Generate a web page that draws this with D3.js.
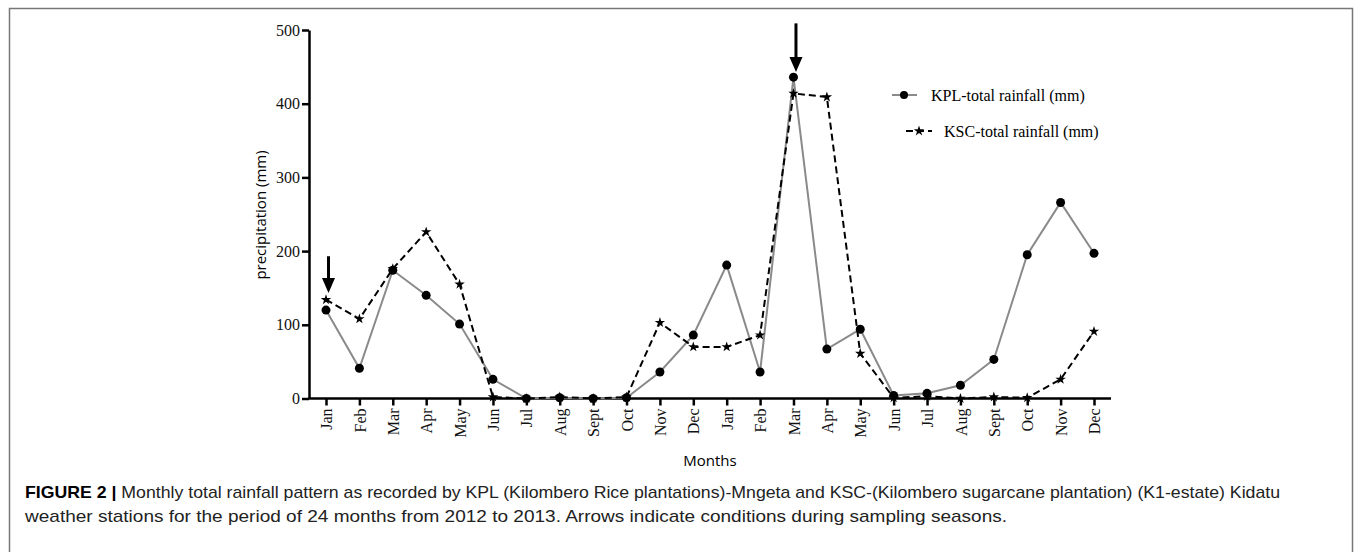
<!DOCTYPE html>
<html>
<head>
<meta charset="utf-8">
<script src="https://cdn.jsdelivr.net/npm/d3@7"></script>
<style>
  body { margin: 0; background: #fff; }
  svg { display: block; }
  .tick text { font-family: "Liberation Serif", serif; fill: #111; }
</style>
</head>
<body>
<svg width="1357" height="552"></svg>
<script>
// data
var months = ["Jan","Feb","Mar","Apr","May","Jun","Jul","Aug","Sept","Oct","Nov","Dec",
              "Jan","Feb","Mar","Apr","May","Jun","Jul","Aug","Sept","Oct","Nov","Dec"];
var kpl = [120, 41, 174, 140, 101, 26, 0, 1, 0, 1, 36, 86,
           181, 36, 436, 67, 94, 4, 7, 18, 53, 195, 266, 197];
var ksc = [134, 108, 176, 226, 155, 2, 0, 2, 0, 2, 103, 70,
           70, 86, 414, 409, 61, 1, 3, 0, 2, 1, 26, 91];
var yTicks = [0, 100, 200, 300, 400, 500];
// sampling arrows: month index, top and tip in mm
var arrows = [{i: 0, from: 193, to: 143}, {i: 14, from: 509, to: 443}];

var svg = d3.select("svg");

// frame
svg.append("rect")
  .attr("x", 9.5).attr("y", 8.5).attr("width", 1343).attr("height", 600)
  .attr("fill", "none").attr("stroke", "#777").attr("stroke-width", 1.5);

var x = d3.scalePoint().domain(d3.range(months.length)).range([326, 1094]),
    y = d3.scaleLinear().domain([0, 500]).range([398.5, 30]);

// y axis
var yAxis = svg.append("g")
  .attr("transform", "translate(309,0)")
  .call(d3.axisLeft(y).tickValues(yTicks).tickSize(7).tickSizeOuter(0).tickPadding(2));
yAxis.select(".domain").attr("stroke-width", 2.5).attr("stroke", "#000");
yAxis.selectAll(".tick line").attr("stroke-width", 2.5).attr("stroke", "#000");
yAxis.selectAll(".tick text").style("font-size", "16px");

// x axis
var xAxis = svg.append("g")
  .attr("transform", "translate(0,398.5)")
  .call(d3.axisBottom(x).tickSize(7).tickFormat(i => months[i]));
xAxis.select(".domain").remove();
xAxis.append("line")
  .attr("x1", 308).attr("x2", 1111)
  .attr("stroke", "#000").attr("stroke-width", 2.5);
xAxis.selectAll(".tick line").attr("stroke-width", 2.5).attr("stroke", "#000");
xAxis.selectAll(".tick text")
  .style("font-size", "16px")
  .attr("text-anchor", "end")
  .attr("transform", "rotate(-90)")
  .attr("x", -10).attr("y", 0).attr("dy", "0.35em");

// axis titles
svg.append("text")
  .attr("transform", "translate(266,215) rotate(-90)")
  .attr("text-anchor", "middle")
  .style("font-family", "'Open Sans', sans-serif").style("font-size", "15px")
  .text("precipitation (mm)");
svg.append("text")
  .attr("x", 710).attr("y", 466)
  .attr("text-anchor", "middle")
  .style("font-family", "'Open Sans', sans-serif").style("font-size", "15px")
  .text("Months");

// lines
var line = data => d3.line().x((d, i) => x(i)).y(d => y(d))(data);

svg.append("path")
  .attr("d", line(kpl))
  .attr("fill", "none").attr("stroke", "#8a8a8a").attr("stroke-width", 2);
svg.selectAll("circle.kpl").data(kpl).enter().append("circle")
  .attr("class", "kpl")
  .attr("cx", (d, i) => x(i)).attr("cy", d => y(d)).attr("r", 4.5)
  .attr("fill", "#000");

svg.append("path")
  .attr("d", line(ksc))
  .attr("fill", "none").attr("stroke", "#000").attr("stroke-width", 2)
  .attr("stroke-dasharray", "7,4");
var star = d3.symbol().type(d3.symbolStar).size(34);
svg.selectAll("path.ksc").data(ksc).enter().append("path")
  .attr("class", "ksc")
  .attr("d", star)
  .attr("transform", (d, i) => "translate(" + x(i) + "," + y(d) + ")")
  .attr("fill", "#000");

// arrows
svg.selectAll("g.arrow").data(arrows).enter().append("g")
  .attr("class", "arrow")
  .each(function(a) {
    var g = d3.select(this), ax = x(a.i) + 2.5, y0 = y(a.from), y1 = y(a.to);
    g.append("line").attr("x1", ax).attr("x2", ax).attr("y1", y0).attr("y2", y1 - 12)
      .attr("stroke", "#000").attr("stroke-width", 3);
    g.append("path")
      .attr("d", "M" + (ax - 6.5) + "," + (y1 - 15) + "L" + (ax + 6.5) + "," + (y1 - 15) + "L" + ax + "," + y1 + "Z")
      .attr("fill", "#000");
  });

// legend
var leg = svg.append("g").style("font-family", "'Liberation Serif', serif").style("font-size", "16px");
leg.append("line").attr("x1", 892).attr("x2", 917).attr("y1", 95).attr("y2", 95)
  .attr("stroke", "#8a8a8a").attr("stroke-width", 2);
leg.append("circle").attr("cx", 904).attr("cy", 95).attr("r", 4).attr("fill", "#000");
leg.append("text").attr("x", 931).attr("y", 95).attr("dy", "0.35em").text("KPL-total rainfall (mm)");
leg.append("line").attr("x1", 906).attr("x2", 932).attr("y1", 131).attr("y2", 131)
  .attr("stroke", "#000").attr("stroke-width", 2).attr("stroke-dasharray", "7,4");
leg.append("path").attr("d", star).attr("transform", "translate(919,131)").attr("fill", "#000");
leg.append("text").attr("x", 944).attr("y", 131).attr("dy", "0.35em").text("KSC-total rainfall (mm)");

// caption
var cap = svg.append("g").style("font-family", "'Liberation Sans', sans-serif")
  .style("font-size", "17px").style("fill", "#222");
var t1 = cap.append("text").attr("x", 25).attr("y", 498)
  .attr("textLength", 1255).attr("lengthAdjust", "spacingAndGlyphs");
t1.append("tspan").style("font-weight", "bold").style("fill", "#000").text("FIGURE 2 | ");
t1.append("tspan").text("Monthly total rainfall pattern as recorded by KPL (Kilombero Rice plantations)-Mngeta and KSC-(Kilombero sugarcane plantation) (K1-estate) Kidatu");
cap.append("text").attr("x", 25).attr("y", 522)
  .attr("textLength", 982).attr("lengthAdjust", "spacingAndGlyphs")
  .text("weather stations for the period of 24 months from 2012 to 2013. Arrows indicate conditions during sampling seasons.");
</script>
</body>
</html>
